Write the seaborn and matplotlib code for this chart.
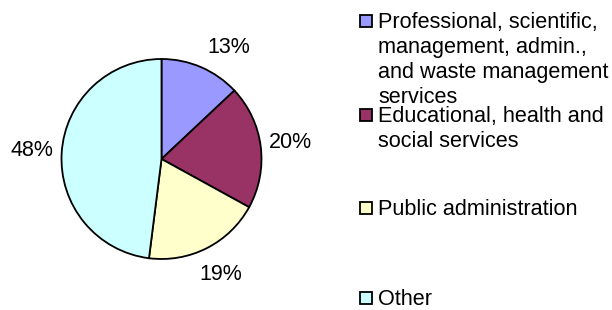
import matplotlib
matplotlib.use("Agg")
import matplotlib.pyplot as plt
from matplotlib.patches import Rectangle
import seaborn as sns

# Data
categories = [
    "Professional, scientific,\nmanagement, admin.,\nand waste management\nservices",
    "Educational, health and\nsocial services",
    "Public administration",
    "Other",
]
shares = [13, 20, 19, 48]
colors = ["#9999FF", "#993366", "#FFFFCC", "#CCFFFF"]

sns.set_theme(style="white")
plt.rcParams["font.family"] = ["Liberation Sans", "DejaVu Sans"]

W, H = 612, 310
fig = plt.figure(figsize=(W / 100, H / 100), dpi=100)
fig.patch.set_facecolor("white")

# pie axes: centre (161.5, 159) px, radius 100 px
cx, cy, r = 161.5, 159, 100
ax = fig.add_axes([(cx - r) / W, (H - cy - r) / H, 2 * r / W, 2 * r / H])
wedges, texts, pcts = ax.pie(
    shares,
    colors=colors,
    startangle=90,
    counterclock=False,
    autopct="%1.0f%%",
    pctdistance=1.3,
    wedgeprops=dict(edgecolor="black", linewidth=1.3),
    textprops=dict(fontsize=15.5, color="black"),
)
# Excel nudges the small slice's label a bit to the right
x0, y0 = pcts[0].get_position()
pcts[0].set_position((x0 + 0.16, y0 - 0.08))
ax.set_xlim(-1, 1)
ax.set_ylim(-1, 1)
ax.set_aspect("auto")
ax.axis("off")

# legend drawn by hand (Excel-style spacing)
first_baselines = [28, 122, 215, 305]
line_gap = 25
for label, col, base in zip(categories, colors, first_baselines):
    for i, line in enumerate(label.split("\n")):
        fig.text(378 / W, 1 - (base + i * line_gap) / H, line,
                 fontsize=15.6, va="baseline", ha="left", color="black")
    sq = 12
    top = base - 7.5 - sq / 2
    fig.add_artist(Rectangle((360 / W, 1 - (top + sq) / H), sq / W, sq / H,
                             transform=fig.transFigure, facecolor=col,
                             edgecolor="black", linewidth=1.3))

fig.savefig("out.png", dpi=100)
